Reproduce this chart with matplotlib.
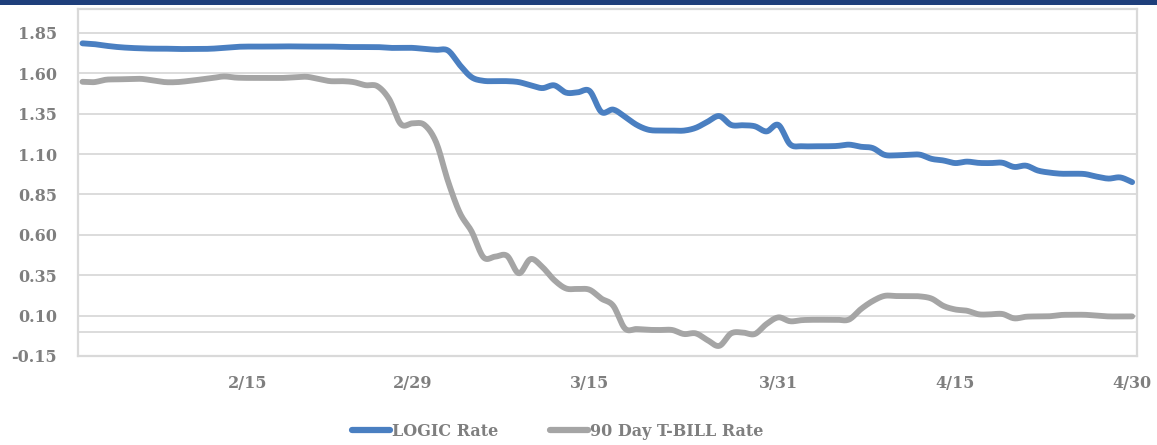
import numpy as np
import pandas as pd
import matplotlib
matplotlib.use("Agg")
import matplotlib.pyplot as plt
from matplotlib.patches import Rectangle
from matplotlib.lines import Line2D

# ---------------- data ----------------
start_date = "2020-02-01"
end_date = "2020-04-30"

logic_rate = [
    1.785, 1.780, 1.770, 1.762, 1.757, 1.754, 1.752, 1.752, 1.750, 1.750,
    1.750, 1.752, 1.757, 1.763, 1.765, 1.765, 1.765, 1.766, 1.766, 1.765,
    1.765, 1.765, 1.763, 1.762, 1.762, 1.762, 1.757, 1.757, 1.757, 1.750,
    1.745, 1.740, 1.650, 1.575, 1.553, 1.551, 1.551, 1.545, 1.525, 1.508,
    1.525, 1.480, 1.482, 1.490, 1.360, 1.375, 1.330, 1.280, 1.250, 1.245,
    1.245, 1.245, 1.262, 1.300, 1.335, 1.280, 1.278, 1.272, 1.240, 1.280,
    1.160, 1.148, 1.148, 1.148, 1.150, 1.158, 1.145, 1.137, 1.095, 1.092,
    1.095, 1.096, 1.070, 1.060, 1.044, 1.053, 1.045, 1.044, 1.046, 1.020,
    1.028, 0.998, 0.985, 0.978, 0.978, 0.976, 0.960, 0.948, 0.955, 0.926,
]

tbill_rate = [
    1.547, 1.545, 1.560, 1.562, 1.564, 1.565, 1.555, 1.545, 1.545, 1.552,
    1.561, 1.570, 1.580, 1.573, 1.571, 1.571, 1.571, 1.571, 1.575, 1.578,
    1.565, 1.551, 1.551, 1.545, 1.526, 1.520, 1.440, 1.285, 1.290, 1.280,
    1.170, 0.930, 0.735, 0.620, 0.461, 0.465, 0.470, 0.362, 0.450, 0.400,
    0.320, 0.268, 0.265, 0.260, 0.205, 0.161, 0.020, 0.017, 0.012, 0.011,
    0.011, -0.014, -0.010, -0.052, -0.087, -0.010, -0.005, -0.014, 0.048, 0.089,
    0.065, 0.072, 0.074, 0.074, 0.074, 0.076, 0.140, 0.190, 0.222, 0.221,
    0.221, 0.219, 0.205, 0.160, 0.138, 0.130, 0.108, 0.108, 0.110, 0.083,
    0.093, 0.095, 0.096, 0.104, 0.105, 0.105, 0.100, 0.095, 0.095, 0.095,
]

series_names = ["LOGIC Rate", "90 Day T-BILL Rate"]
tick_dates = ["2020-02-15", "2020-02-29", "2020-03-15", "2020-03-31", "2020-04-15", "2020-04-30"]
tick_labels = ["2/15", "2/29", "3/15", "3/31", "4/15", "4/30"]
y_ticks = [-0.15, 0.10, 0.35, 0.60, 0.85, 1.10, 1.35, 1.60, 1.85]

# ---------------- style ----------------
BLUE = "#4A7FC1"
GRAY = "#A5A5A5"
GRID = "#D9D9D9"
TEXT = "#7F7F7F"
BAR = "#1F3F7B"
FONT = "DejaVu Serif"


def smooth(x, y, n=12):
    """Excel-like smooth line (Catmull-Rom through the data points)."""
    x = np.asarray(x, float)
    y = np.asarray(y, float)
    px = np.concatenate([[x[0]], x, [x[-1]]])
    py = np.concatenate([[y[0]], y, [y[-1]]])
    t = np.linspace(0, 1, n, endpoint=False)
    xs, ys = [], []
    for i in range(1, len(px) - 2):
        p0x, p1x, p2x, p3x = px[i - 1:i + 3]
        p0y, p1y, p2y, p3y = py[i - 1:i + 3]
        c1x, c1y = p1x + (p2x - p0x) / 6, p1y + (p2y - p0y) / 6
        c2x, c2y = p2x - (p3x - p1x) / 6, p2y - (p3y - p1y) / 6
        b0 = (1 - t) ** 3
        b1 = 3 * (1 - t) ** 2 * t
        b2 = 3 * (1 - t) * t ** 2
        b3 = t ** 3
        xs.append(b0 * p1x + b1 * c1x + b2 * c2x + b3 * p2x)
        ys.append(b0 * p1y + b1 * c1y + b2 * c2y + b3 * p2y)
    xs.append([x[-1]])
    ys.append([y[-1]])
    return np.concatenate(xs), np.concatenate(ys)


dates = pd.date_range(start_date, end_date, freq="D")
day = (dates - dates[0]).days.values.astype(float)
tick_pos = (pd.to_datetime(tick_dates) - dates[0]).days.values.astype(float)

fig = plt.figure(figsize=(11.57, 4.45), dpi=100)
ax = fig.add_axes([78 / 1157, 1 - 356 / 445, (1136.5 - 78) / 1157, (356 - 8.6) / 445])

# top dark bar
fig.patches.append(Rectangle((0, 1 - 5 / 445), 1, 5 / 445, transform=fig.transFigure,
                             facecolor=BAR, edgecolor="none", zorder=0))

for yv in y_ticks + [0.0]:
    ax.axhline(yv, color=GRID, lw=1.3, zorder=1)

for vals, col, name in [(logic_rate, BLUE, series_names[0]), (tbill_rate, GRAY, series_names[1])]:
    sx, sy = smooth(day, vals)
    ax.plot(sx, sy, color=col, lw=4.2, solid_capstyle="round", solid_joinstyle="round",
            zorder=3, label=name)

ax.set_ylim(-0.15, 2.0)
ax.set_xlim(-0.38, 89.37)
ax.set_yticks(y_ticks)
ax.set_yticklabels([f"{v:.2f}" for v in y_ticks])
ax.set_xticks(tick_pos)
ax.set_xticklabels(tick_labels)
ax.tick_params(axis="both", length=0, colors=TEXT, labelsize=11.5)
ax.tick_params(axis="y", pad=15)
ax.tick_params(axis="x", pad=14)
for lab in ax.get_xticklabels() + ax.get_yticklabels():
    lab.set_fontfamily(FONT)
    lab.set_fontweight("bold")

for sp in ax.spines.values():
    sp.set_color(GRID)
    sp.set_linewidth(1.6)

handles = [Line2D([], [], color=BLUE, lw=4.5, solid_capstyle="round"),
           Line2D([], [], color=GRAY, lw=4.5, solid_capstyle="round")]
leg = fig.legend(handles, series_names, loc="center", bbox_to_anchor=(0.482, 0.0303),
                 ncol=2, frameon=False, handlelength=2.4, handletextpad=0.15,
                 columnspacing=3.2, prop={"family": FONT, "weight": "bold", "size": 11.5})
for t in leg.get_texts():
    t.set_color(TEXT)

fig.savefig("out.png", dpi=100)
